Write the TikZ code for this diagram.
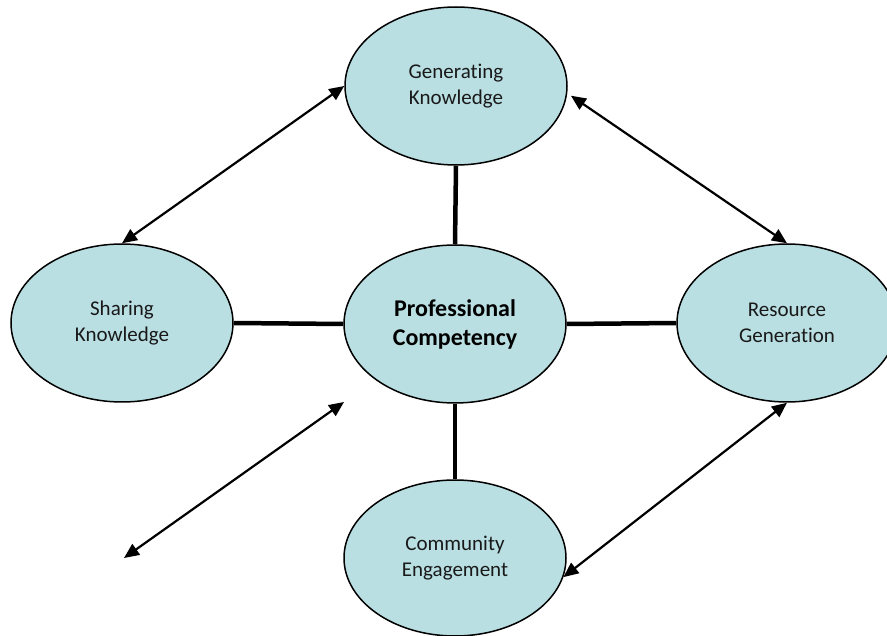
\documentclass[tikz,border=0pt]{standalone}
\usepackage{fontspec}
\setmainfont[Ligatures=NoCommon]{Carlito}
\usetikzlibrary{shapes.geometric,arrows.meta}
\definecolor{bubble}{RGB}{185,223,227}
\tikzset{
  bubblenode/.style={ellipse, draw=black, line width=1.5pt, fill=bubble,
    minimum width=222pt, minimum height=158pt, inner sep=0pt, align=center,
    font=\fontsize{21pt}{26pt}\selectfont, text=black!90},
  boldnode/.style={bubblenode, font=\fontsize{24pt}{29pt}\selectfont\bfseries, text=black},
  thickline/.style={line width=4.5pt},
  dblarrow/.style={line width=2.2pt, {Triangle[length=15pt,width=13pt]}-{Triangle[length=15pt,width=13pt]}}
}
\begin{document}
\begin{tikzpicture}[x=1pt,y=-1pt]
\useasboundingbox (0,0) rectangle (887,636);
\node[bubblenode] (gen) at (456,86) {Generating\\Knowledge};
\node[bubblenode] (share) at (122,323) {Sharing\\Knowledge};
\node[boldnode] (prof) at (455,324) {Professional\\Competency};
\node[bubblenode, minimum width=220pt] (res) at (787,323) {Resource\\Generation};
\node[bubblenode, minimum height=156pt] (comm) at (455,558) {Community\\Engagement};
\coordinate (fa) at (344,402);
\coordinate (fb) at (124,558);
\draw[thickline] (gen.south) -- (prof.north);
\draw[thickline] (share.east) -- (prof.west);
\draw[thickline] (prof.east) -- (res.west);
\draw[thickline] (prof.south) -- (comm.north);
\draw[dblarrow] (share.north) -- (gen.west);
\draw[dblarrow] ([xshift=4pt]gen.-5) -- (res.north);
\draw[dblarrow] (fa) -- (fb);
\draw[dblarrow] (res.south) -- (comm.-10);
\end{tikzpicture}
\end{document}
